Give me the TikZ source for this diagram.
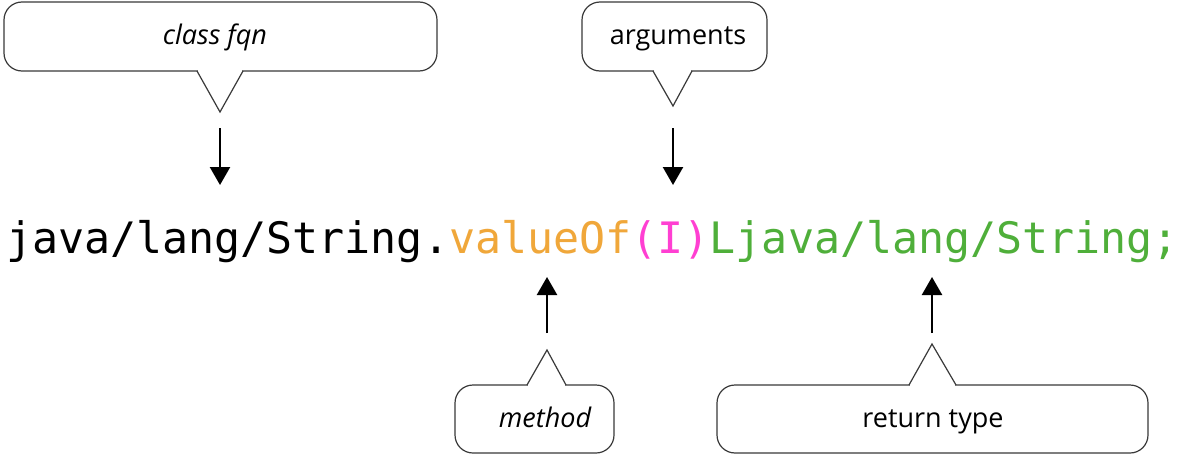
\documentclass[tikz,border=0pt]{standalone}
\usepackage{fontspec}
\usetikzlibrary{arrows.meta}
\newfontfamily\codefont{DejaVu Sans Mono}
\newfontfamily\calfont{Open Sans}
\definecolor{cOrange}{HTML}{F0A73A}
\definecolor{cMagenta}{HTML}{FF3FD2}
\definecolor{cGreen}{HTML}{4FAF3A}
\definecolor{cLine}{HTML}{3A3A3A}
\tikzset{
  code/.style={inner sep=0pt, outer sep=0pt, anchor=base west, font=\codefont\fontsize{43.3}{50}\selectfont},
  callbox/.style={draw=cLine, line width=1.2pt, rounded corners=18pt},
  calltip/.style={draw=cLine, line width=1.2pt, line join=miter},
  calltext/.style={inner sep=0pt, anchor=base, font=\calfont\fontsize{27}{32}\selectfont},
  callit/.style={calltext, font=\calfont\itshape\fontsize{27}{32}\selectfont},
  pointer/.style={line width=2.4pt, -{Triangle[width=20pt,length=18pt]}},
}
\begin{document}
\begin{tikzpicture}[x=1pt,y=-1pt]
\useasboundingbox (0,0) rectangle (1181,455);
\fill[white] (0,0) rectangle (1181,455);
% code line
\node[code] (c1) at (6,253) {java/lang/String.};
\node[code, text=cOrange] (c2) at (c1.base east) {valueOf};
\node[code, text=cMagenta] (c3) at (c2.base east) {(I)};
\node[code, text=cGreen] (c4) at (c3.base east) {Ljava/lang/String;};
% callout: class fqn
\draw[callbox] (4,2) rectangle (437,71);
\fill[white] (198,69) rectangle (242,73);
\draw[calltip] (197,71) -- (220,112) -- (243,71);
\node[callit] (t1) at (215,44) {class fqn};
% callout: arguments
\draw[callbox] (582,2) rectangle (767,71);
\fill[white] (654,69) rectangle (691,73);
\draw[calltip] (653,71) -- (673,106) -- (692,71);
\node[calltext] (t2) at (678,44) {arguments};
% callout: method
\draw[callbox] (455,385) rectangle (614,453);
\fill[white] (528,383) rectangle (565,387);
\draw[calltip] (527,385) -- (547,350) -- (566,385);
\node[callit] (t3) at (545,427) {method};
% callout: return type
\draw[callbox] (717,385) rectangle (1148,453);
\fill[white] (910,383) rectangle (955,387);
\draw[calltip] (909,385) -- (932,344) -- (956,385);
\node[calltext] (t4) at (933,427) {return type};
% arrows
\coordinate (a1s) at (220,128); \coordinate (a1e) at (220,185);
\coordinate (a2s) at (673,128); \coordinate (a2e) at (673,185);
\coordinate (a3s) at (547,333); \coordinate (a3e) at (547,277);
\coordinate (a4s) at (932,333); \coordinate (a4e) at (932,277);
\draw[pointer] (a1s) -- (a1e);
\draw[pointer] (a2s) -- (a2e);
\draw[pointer] (a3s) -- (a3e);
\draw[pointer] (a4s) -- (a4e);
\end{tikzpicture}
\end{document}
